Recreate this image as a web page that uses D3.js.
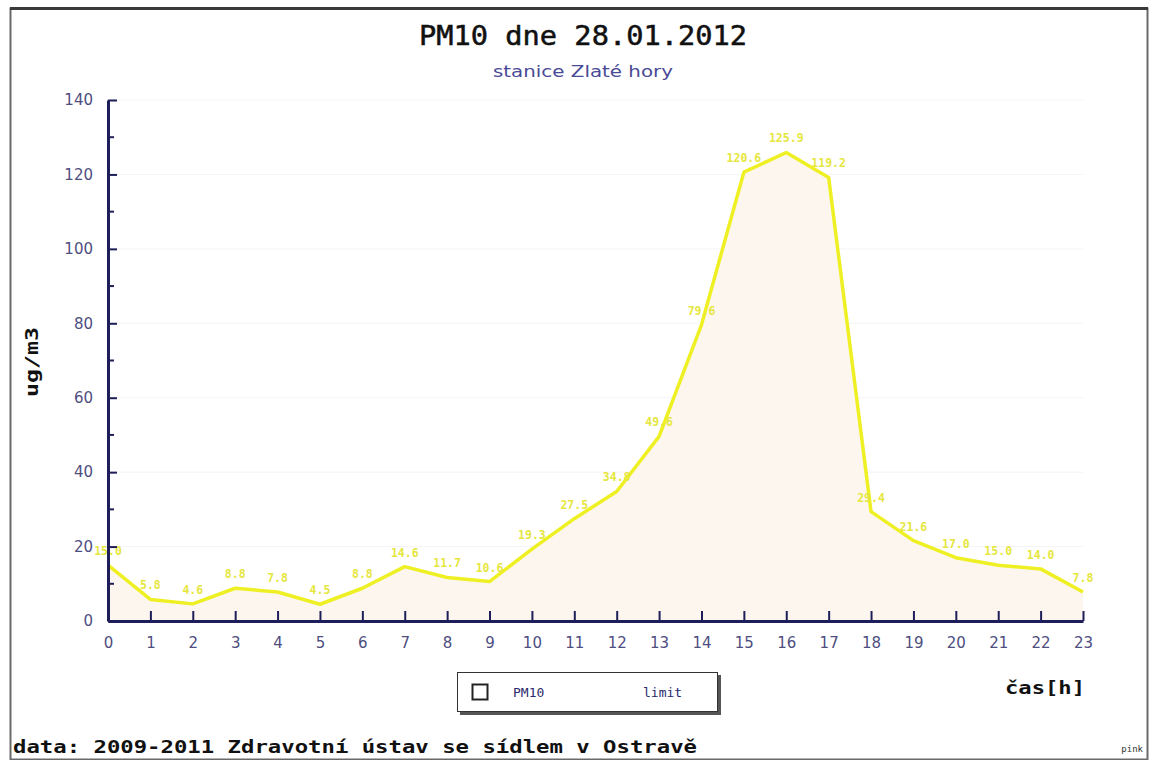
<!DOCTYPE html>
<html>
<head>
<meta charset="utf-8">
<script src="https://cdn.jsdelivr.net/npm/d3@7"></script>
<style>
  html, body { margin: 0; padding: 0; background: #ffffff; }
  svg { display: block; }
</style>
</head>
<body>
<svg id="chart" width="1151" height="760"></svg>
<script>
// Hourly PM10 concentrations (ug/m3), station Zlaté hory, 28.01.2012
const hours = [0,1,2,3,4,5,6,7,8,9,10,11,12,13,14,15,16,17,18,19,20,21,22,23];
const pm10 = [15.0,5.8,4.6,8.8,7.8,4.5,8.8,14.6,11.7,10.6,19.3,27.5,34.8,49.6,79.6,120.6,125.9,119.2,29.4,21.6,17.0,15.0,14.0,7.8];
const yTicks = [0,20,40,60,80,100,120,140];
const yMinorTicks = [10,30,50,70,90,110,130];

const svg = d3.select("#chart");

// outer frame
svg.append("rect")
  .attr("x", 10.5).attr("y", 8.5).attr("width", 1137).attr("height", 751)
  .attr("fill", "#ffffff").attr("stroke", "#6a6a6a").attr("stroke-width", 2);
svg.append("line")
  .attr("x1", 10).attr("x2", 1148).attr("y1", 8.5).attr("y2", 8.5)
  .attr("stroke", "#3a3a3a").attr("stroke-width", 3);

const x = d3.scaleLinear().domain([0, 23]).range([108, 1083]);
const y = d3.scaleLinear().domain([0, 140]).range([621, 100]);

// faint horizontal grid
svg.append("g").selectAll("line").data(yTicks.filter(d => d > 0)).join("line")
  .attr("x1", x(0)).attr("x2", x(23))
  .attr("y1", d => y(d)).attr("y2", d => y(d))
  .attr("stroke", "#f4f4f8").attr("stroke-width", 1);

// area under the curve
const area = d3.area()
  .x((d, i) => x(hours[i]))
  .y0(y(0))
  .y1(d => y(d));
svg.append("path").datum(pm10)
  .attr("d", area)
  .attr("fill", "#fdf6ef");

// line
const line = d3.line()
  .x((d, i) => x(hours[i]))
  .y(d => y(d));
svg.append("path").datum(pm10)
  .attr("d", line)
  .attr("fill", "none")
  .attr("stroke", "#eef024")
  .attr("stroke-width", 3.5)
  .attr("stroke-linejoin", "round");

// value labels
svg.append("g").selectAll("text").data(pm10).join("text")
  .attr("x", (d, i) => x(hours[i]))
  .attr("y", d => y(d) - 10)
  .attr("text-anchor", "middle")
  .attr("font-family", "DejaVu Sans Mono, monospace")
  .attr("font-weight", "bold")
  .attr("font-size", 11.5)
  .attr("fill", "#e6e640")
  .text(d => d3.format(".1f")(d));

const axisColor = "#1e1e5a";
const labelColor = "#4e4e80";

// y axis
const yAxis = svg.append("g")
  .attr("transform", `translate(${x(0)},0)`)
  .call(d3.axisLeft(y).tickValues(yTicks).tickSizeInner(-9).tickSizeOuter(0).tickPadding(15));
yAxis.select(".domain").attr("stroke", axisColor).attr("stroke-width", 3);
yAxis.selectAll(".tick line").attr("stroke", axisColor).attr("stroke-width", 2);
yAxis.selectAll(".tick text")
  .attr("font-family", "DejaVu Sans, sans-serif")
  .attr("font-size", 15)
  .attr("fill", labelColor);
svg.append("g").selectAll("line").data(yMinorTicks).join("line")
  .attr("x1", x(0)).attr("x2", x(0) + 6)
  .attr("y1", d => y(d)).attr("y2", d => y(d))
  .attr("stroke", axisColor).attr("stroke-width", 2);

// x axis
const xAxis = svg.append("g")
  .attr("transform", `translate(0,${y(0)})`)
  .call(d3.axisBottom(x).tickValues(hours).tickFormat(d3.format("d")).tickSizeInner(-10).tickSizeOuter(0).tickPadding(16));
xAxis.select(".domain").attr("stroke", axisColor).attr("stroke-width", 3);
xAxis.selectAll(".tick line").attr("stroke", axisColor).attr("stroke-width", 2);
xAxis.selectAll(".tick text")
  .attr("font-family", "DejaVu Sans, sans-serif")
  .attr("font-size", 15)
  .attr("fill", labelColor);

// titles
svg.append("text")
  .attr("x", 583).attr("y", 45)
  .attr("text-anchor", "middle")
  .attr("font-family", "DejaVu Sans Mono, monospace")
  .attr("font-size", 26)
  .attr("fill", "#111111")
  .attr("stroke", "#111111").attr("stroke-width", 0.5)
  .attr("textLength", 328).attr("lengthAdjust", "spacingAndGlyphs")
  .text("PM10 dne 28.01.2012");

svg.append("text")
  .attr("x", 583).attr("y", 77)
  .attr("text-anchor", "middle")
  .attr("font-family", "DejaVu Sans, sans-serif")
  .attr("font-size", 15)
  .attr("fill", "#4a4a96")
  .attr("textLength", 180).attr("lengthAdjust", "spacingAndGlyphs")
  .text("stanice Zlaté hory");

// axis titles
svg.append("text")
  .attr("transform", "translate(38,362) rotate(-90)")
  .attr("text-anchor", "middle")
  .attr("font-family", "DejaVu Sans Mono, monospace")
  .attr("font-weight", "bold")
  .attr("font-size", 17)
  .attr("fill", "#111111")
  .attr("textLength", 70).attr("lengthAdjust", "spacingAndGlyphs")
  .text("ug/m3");

svg.append("text")
  .attr("x", 1045).attr("y", 694)
  .attr("text-anchor", "middle")
  .attr("font-family", "DejaVu Sans Mono, monospace")
  .attr("font-weight", "bold")
  .attr("font-size", 18)
  .attr("fill", "#111111")
  .attr("textLength", 80).attr("lengthAdjust", "spacingAndGlyphs")
  .text("čas[h]");

// legend
const legend = svg.append("g");
legend.append("rect")
  .attr("x", 460).attr("y", 675).attr("width", 261).attr("height", 40)
  .attr("fill", "#555555");
legend.append("rect")
  .attr("x", 457.5).attr("y", 672.5).attr("width", 260).attr("height", 39)
  .attr("fill", "#ffffff").attr("stroke", "#333333").attr("stroke-width", 1);
legend.append("rect")
  .attr("x", 472.5).attr("y", 684.5).attr("width", 15).attr("height", 15)
  .attr("fill", "#ffffff").attr("stroke", "#222222").attr("stroke-width", 2);
legend.append("text")
  .attr("x", 513).attr("y", 697)
  .attr("font-family", "DejaVu Sans Mono, monospace")
  .attr("font-size", 13)
  .attr("fill", "#2a2a6a")
  .text("PM10");
legend.append("text")
  .attr("x", 643).attr("y", 697)
  .attr("font-family", "DejaVu Sans Mono, monospace")
  .attr("font-size", 13)
  .attr("fill", "#2a2a6a")
  .text("limit");

// footer
svg.append("text")
  .attr("x", 13).attr("y", 753)
  .attr("font-family", "DejaVu Sans Mono, monospace")
  .attr("font-weight", "bold")
  .attr("font-size", 18)
  .attr("fill", "#111111")
  .attr("textLength", 684).attr("lengthAdjust", "spacingAndGlyphs")
  .text("data: 2009-2011 Zdravotní ústav se sídlem v Ostravě");

svg.append("text")
  .attr("x", 1143).attr("y", 752)
  .attr("text-anchor", "end")
  .attr("font-family", "DejaVu Sans Mono, monospace")
  .attr("font-size", 9)
  .attr("fill", "#333333")
  .text("pink");
</script>
</body>
</html>
